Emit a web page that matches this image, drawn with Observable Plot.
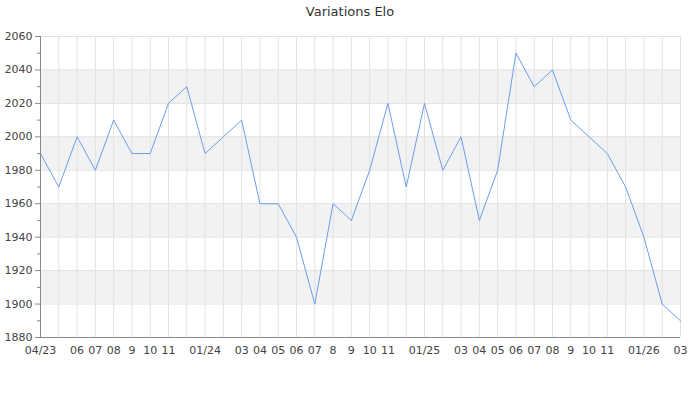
<!DOCTYPE html>
<html>
<head>
<meta charset="utf-8">
<script src="https://cdn.jsdelivr.net/npm/d3@7"></script>
<script src="https://cdn.jsdelivr.net/npm/@observablehq/plot@0.6"></script>
<style>
  body { margin: 0; background: #fff; font-family: "DejaVu Sans", sans-serif; }
  #title { height: 24px; line-height: 24px; text-align: center; font-size: 13px; color: #333; width: 700px; }
</style>
</head>
<body>
<div id="title">Variations Elo</div>
<div id="chart"></div>
<script>
// Month index 0 = 04/2023 ... 35 = 03/2026
const months = d3.range(0, 36);
const elo = [1990, 1970, 2000, 1980, 2010, 1990, 1990, 2020, 2030, 1990, 2000, 2010,
             1960, 1960, 1940, 1900, 1960, 1950, 1980, 2020, 1970, 2020, 1980, 2000,
             1950, 1980, 2050, 2030, 2040, 2010, 2000, 1990, 1970, 1940, 1900, 1890];
const xTickLabels = ["04/23", "", "06", "07", "08", "9", "10", "11", "", "01/24", "", "03",
                     "04", "05", "06", "07", "8", "9", "10", "11", "", "01/25", "", "03",
                     "04", "05", "06", "07", "08", "9", "10", "11", "", "01/26", "", "03"];
const yTicks = [1880, 1900, 1920, 1940, 1960, 1980, 2000, 2020, 2040, 2060];
const yMinorTicks = [1890, 1910, 1930, 1950, 1970, 1990, 2010, 2030, 2050];
const bandStarts = [1900, 1940, 1980, 2020];

const data = months.map((m, i) => ({m, v: elo[i]}));
const bands = bandStarts.map(b => ({y1: b, y2: b + 20}));

const chart = Plot.plot({
  width: 700,
  height: 376,
  marginTop: 12,
  marginBottom: 63,
  marginLeft: 40,
  marginRight: 20,
  style: {fontFamily: "DejaVu Sans, sans-serif", fontSize: "11px", color: "#444", background: "#fff"},
  x: {type: "linear", domain: [0, 35], axis: null},
  y: {type: "linear", domain: [1880, 2060], axis: null},
  marks: [
    Plot.rect(bands, {x1: () => 0, x2: () => 35, y1: "y1", y2: "y2", fill: "#f2f2f2"}),
    Plot.ruleX(months, {x: d => d, stroke: "#e2e2e2", strokeWidth: 1}),
    Plot.ruleY(yTicks, {y: d => d, stroke: "#e2e2e2", strokeWidth: 1}),
    Plot.line(data, {x: "m", y: "v", stroke: "#6d9cf0", strokeWidth: 1}),
    Plot.axisY({ticks: yTicks, tickSize: 5, tickFormat: d => String(d), stroke: "#888", fill: "#444", tickPadding: 3, fontSize: 11, label: null}),
    Plot.axisY({ticks: yMinorTicks, tickSize: 3, tickFormat: () => "", stroke: "#888", label: null}),
    Plot.ruleX([0], {x: d => d, stroke: "#888"}),
    Plot.ruleY([1880], {y: d => d, stroke: "#888"}),
    Plot.axisX({ticks: months, tickSize: 0, tickPadding: 9, tickFormat: i => xTickLabels[i], fill: "#444", fontSize: 11, label: null})
  ]
});
document.getElementById("chart").appendChild(chart);
</script>
</body>
</html>
